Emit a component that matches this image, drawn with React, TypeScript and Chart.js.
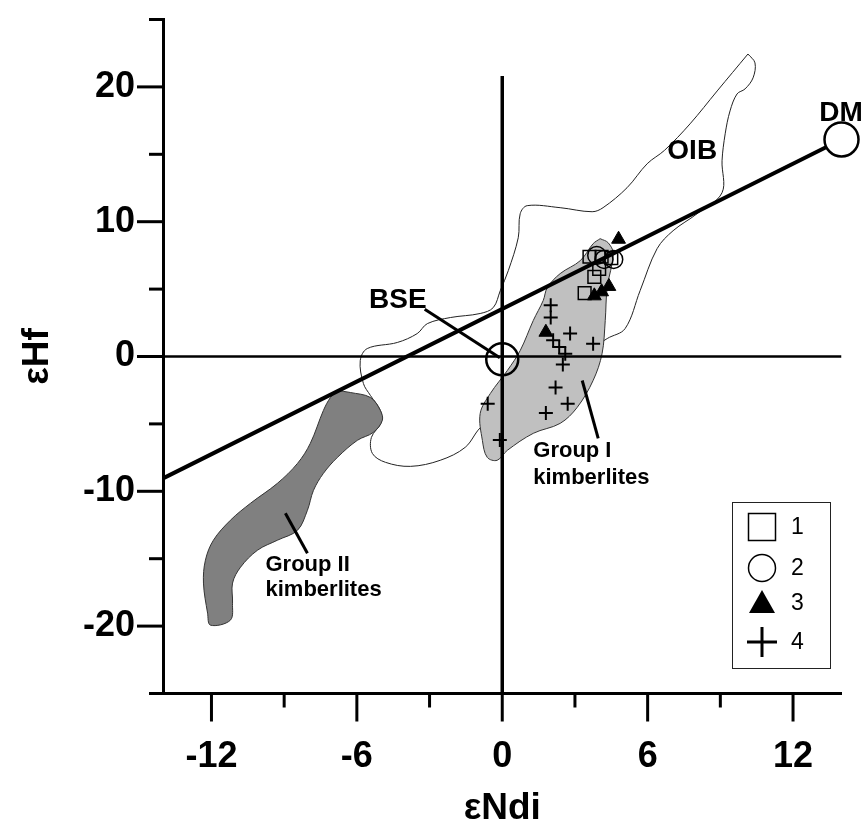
import React, { useEffect, useRef } from 'react';
import { Chart, registerables } from 'chart.js';

Chart.register(...registerables);

// ---- axis ticks ----
const xMajorTicks = [-12, -6, 0, 6, 12];
const xMinorTicks = [-9, -3, 3, 9];
const yMajorTicks = [-20, -10, 0, 10, 20];
const yMinorTicks = [-25, -15, -5, 5, 15, 25];

// ---- fields (εNdi, εHf) ----
const oibField = [
  { x: 10.14, y: 22.44 }, { x: 8.87, y: 19.7 }, { x: 7.75, y: 17.26 }, { x: 6.7, y: 15.3 },
  { x: 5.98, y: 14.3 }, { x: 5.15, y: 12.52 }, { x: 4.16, y: 11.04 }, { x: 3.71, y: 10.74 },
  { x: 2.39, y: 11.04 }, { x: 1.03, y: 11.19 }, { x: 0.74, y: 10.59 }, { x: 0.66, y: 8.81 },
  { x: 0.25, y: 6.37 }, { x: -0.08, y: 4.89 }, { x: -0.37, y: 3.63 }, { x: -0.91, y: 3.19 },
  { x: -2.14, y: 2.89 }, { x: -3.09, y: 2.44 }, { x: -3.51, y: 1.7 }, { x: -4.33, y: 1.04 },
  { x: -5.57, y: 0.59 }, { x: -5.86, y: -0.3 }, { x: -5.73, y: -2.0 }, { x: -5.44, y: -2.89 },
  { x: -5.03, y: -4.0 }, { x: -4.99, y: -4.89 }, { x: -5.4, y: -6.0 }, { x: -5.36, y: -7.19 },
  { x: -4.82, y: -7.85 }, { x: -3.79, y: -8.15 }, { x: -2.56, y: -7.7 }, { x: -1.53, y: -6.74 },
  { x: -0.78, y: -5.11 }, { x: 1.57, y: -3.26 }, { x: 3.63, y: 0.44 }, { x: 4.33, y: 1.33 },
  { x: 5.07, y: 2.07 }, { x: 5.69, y: 4.89 }, { x: 6.39, y: 8.0 }, { x: 7.05, y: 9.33 },
  { x: 8.04, y: 10.59 }, { x: 9.07, y: 12.15 }, { x: 9.07, y: 14.52 }, { x: 9.2, y: 16.52 },
  { x: 9.4, y: 18.22 }, { x: 9.69, y: 19.48 }, { x: 10.02, y: 19.85 }, { x: 10.35, y: 20.67 },
  { x: 10.43, y: 21.78 }, { x: 10.14, y: 22.44 },
];

const groupIField = [
  { x: 4.04, y: 8.74 }, { x: 4.37, y: 8.44 }, { x: 4.58, y: 7.63 }, { x: 4.33, y: 5.11 },
  { x: 4.25, y: 2.67 }, { x: 4.12, y: 0.22 }, { x: 3.75, y: -1.78 }, { x: 3.09, y: -3.78 },
  { x: 2.39, y: -4.96 }, { x: 1.28, y: -5.7 }, { x: 0.21, y: -6.96 }, { x: -0.21, y: -7.7 },
  { x: -0.62, y: -7.48 }, { x: -0.82, y: -6.22 }, { x: -0.91, y: -4.22 }, { x: -0.49, y: -2.74 },
  { x: 0.21, y: -1.04 }, { x: 0.74, y: 0.44 }, { x: 1.28, y: 2.67 }, { x: 1.69, y: 4.15 },
  { x: 1.86, y: 5.11 }, { x: 2.39, y: 6.15 }, { x: 3.22, y: 7.11 }, { x: 3.75, y: 8.37 },
  { x: 4.04, y: 8.74 },
];

const groupIIField = [
  { x: -6.8, y: -2.52 }, { x: -6.27, y: -2.67 }, { x: -5.44, y: -3.04 }, { x: -5.03, y: -4.0 },
  { x: -4.95, y: -4.74 }, { x: -5.32, y: -5.63 }, { x: -5.98, y: -6.22 }, { x: -6.8, y: -7.48 },
  { x: -7.38, y: -8.67 }, { x: -7.79, y: -9.93 }, { x: -8.04, y: -11.41 }, { x: -8.45, y: -12.89 },
  { x: -9.28, y: -13.63 }, { x: -10.1, y: -14.37 }, { x: -10.8, y: -15.63 }, { x: -11.13, y: -16.81 },
  { x: -11.13, y: -18.3 }, { x: -11.22, y: -19.56 }, { x: -12.04, y: -19.93 }, { x: -12.16, y: -19.04 },
  { x: -12.33, y: -16.81 }, { x: -12.25, y: -15.11 }, { x: -11.92, y: -13.63 }, { x: -11.22, y: -12.15 },
  { x: -10.39, y: -10.89 }, { x: -9.28, y: -9.41 }, { x: -8.45, y: -7.93 }, { x: -7.92, y: -6.44 },
  { x: -7.38, y: -4.0 }, { x: -7.09, y: -3.04 }, { x: -6.8, y: -2.52 },
];

// ---- reference lines ----
const mixingLine = [{ x: -14, y: -9.04 }, { x: 14, y: 16.1 }];
const zeroVertical = [{ x: 0, y: -25 }, { x: 0, y: 20.8 }];
const zeroHorizontal = [{ x: -14, y: 0 }, { x: 14, y: 0 }];
const bseLeader = [{ x: -3.2, y: 3.5 }, { x: -0.1, y: -0.1 }];
const groupILeader = [{ x: 3.3, y: -1.78 }, { x: 3.96, y: -6.07 }];
const groupIILeader = [{ x: -8.95, y: -11.63 }, { x: -8.04, y: -14.59 }];

// ---- reservoirs ----
const bsePoint = [{ x: 0, y: -0.2 }];
const dmPoint = [{ x: 14, y: 16.1 }];

// ---- samples ----
const series1 = [
  { x: 3.6, y: 7.4 }, { x: 4.1, y: 7.4 }, { x: 4.5, y: 7.3 },
  { x: 4.0, y: 6.5 }, { x: 3.8, y: 5.9 }, { x: 3.4, y: 4.7 },
];
const series2 = [{ x: 3.9, y: 7.5 }, { x: 4.2, y: 7.2 }, { x: 4.6, y: 7.2 }];
const series3 = [
  { x: 4.8, y: 8.7 }, { x: 4.4, y: 5.2 }, { x: 4.1, y: 4.8 }, { x: 3.8, y: 4.5 }, { x: 1.8, y: 1.8 },
];
const series4 = [
  { x: 2.0, y: 3.8 }, { x: 2.0, y: 2.9 }, { x: 2.8, y: 1.7 }, { x: 2.1, y: 1.2 },
  { x: 2.35, y: 0.7 }, { x: 2.6, y: 0.2 }, { x: 2.5, y: -0.6 }, { x: 3.75, y: 0.95 },
  { x: 2.2, y: -2.3 }, { x: 2.7, y: -3.5 }, { x: 1.8, y: -4.2 }, { x: -0.6, y: -3.5 },
  { x: -0.1, y: -6.2 },
];
const legendLabels = ['1', '2', '3', '4'];

// ---- annotation texts (anchor in data units) ----
const bigLabels = [
  { text: 'BSE', x: -4.31, y: 4.15 },
  { text: 'DM', x: 13.98, y: 18.04 },
  { text: 'OIB', x: 7.84, y: 15.19 },
];
const fieldLabels = [
  { text: 'Group I', x: 1.28, y: -7.04 },
  { text: 'kimberlites', x: 1.28, y: -9.0 },
  { text: 'Group II', x: -9.77, y: -15.48 },
  { text: 'kimberlites', x: -9.77, y: -17.33 },
];

const FONT = "'Liberation Sans', Arial, Helvetica, sans-serif";

const ticksPlugin = {
  id: 'customTicks',
  afterDraw(chart: any) {
    const { ctx, chartArea, scales } = chart;
    const xs = scales.x;
    const ys = scales.y;
    ctx.save();
    ctx.strokeStyle = '#000';
    ctx.lineWidth = 3;
    const xt = (vals: number[], len: number) =>
      vals.forEach((v) => {
        const px = xs.getPixelForValue(v);
        ctx.beginPath();
        ctx.moveTo(px, chartArea.bottom);
        ctx.lineTo(px, chartArea.bottom + len);
        ctx.stroke();
      });
    const yt = (vals: number[], len: number) =>
      vals.forEach((v) => {
        const py = ys.getPixelForValue(v);
        ctx.beginPath();
        ctx.moveTo(chartArea.left, py);
        ctx.lineTo(chartArea.left - len, py);
        ctx.stroke();
      });
    xt(xMajorTicks, 28);
    xt(xMinorTicks, 14);
    yt(yMajorTicks, 26);
    yt(yMinorTicks, 14);
    ctx.restore();
  },
};

const textPlugin = {
  id: 'annotTexts',
  afterDatasetsDraw(chart: any) {
    const { ctx, scales } = chart;
    const xs = scales.x;
    const ys = scales.y;
    ctx.save();
    ctx.fillStyle = '#000';
    ctx.textBaseline = 'middle';
    ctx.textAlign = 'center';
    ctx.font = `bold 28px ${FONT}`;
    bigLabels.forEach((l) => {
      ctx.fillText(l.text, xs.getPixelForValue(l.x), ys.getPixelForValue(l.y));
    });
    ctx.textAlign = 'left';
    ctx.font = `bold 22px ${FONT}`;
    fieldLabels.forEach((l) => {
      ctx.fillText(l.text, xs.getPixelForValue(l.x), ys.getPixelForValue(l.y));
    });
    ctx.restore();
  },
};

const legendPlugin = {
  id: 'boxLegend',
  afterDraw(chart: any) {
    const { ctx } = chart;
    const left = 732;
    const top = 502;
    const w = 98;
    const h = 166;
    ctx.save();
    ctx.fillStyle = '#fff';
    ctx.fillRect(left, top, w, h);
    ctx.strokeStyle = '#222';
    ctx.lineWidth = 1;
    ctx.strokeRect(left + 0.5, top + 0.5, w, h);
    const cx = 762;
    const rows = [527, 568, 603, 642];
    ctx.strokeStyle = '#000';
    ctx.fillStyle = '#000';
    ctx.lineWidth = 1.5;
    ctx.strokeRect(cx - 13.5, rows[0] - 13.5, 27, 27);
    ctx.beginPath();
    ctx.arc(cx, rows[1], 13.5, 0, Math.PI * 2);
    ctx.stroke();
    ctx.beginPath();
    ctx.moveTo(cx, rows[2] - 13);
    ctx.lineTo(cx + 13, rows[2] + 10);
    ctx.lineTo(cx - 13, rows[2] + 10);
    ctx.closePath();
    ctx.fill();
    ctx.lineWidth = 3;
    ctx.beginPath();
    ctx.moveTo(cx - 15, rows[3]);
    ctx.lineTo(cx + 15, rows[3]);
    ctx.moveTo(cx, rows[3] - 15);
    ctx.lineTo(cx, rows[3] + 15);
    ctx.stroke();
    ctx.font = `23px ${FONT}`;
    ctx.textAlign = 'left';
    ctx.textBaseline = 'middle';
    legendLabels.forEach((t, i) => ctx.fillText(t, 791, rows[i] + 1));
    ctx.restore();
  },
};

const lineDs = (data: any[], width: number, order: number, extra: any = {}) => ({
  data,
  showLine: true,
  borderColor: '#000',
  borderWidth: width,
  pointRadius: 0,
  pointHoverRadius: 0,
  pointHitRadius: 0,
  tension: 0,
  fill: false,
  order,
  ...extra,
});

export default function App() {
  const canvasRef = useRef<HTMLCanvasElement | null>(null);

  useEffect(() => {
    const canvas = canvasRef.current;
    if (!canvas) return;
    const chart = new Chart(canvas, {
      type: 'scatter',
      data: {
        datasets: [
          lineDs(oibField, 1, 20, { borderColor: '#222', tension: 0.35 }),
          lineDs(groupIIField, 1, 19, {
            borderColor: '#333',
            backgroundColor: '#808080',
            fill: 'shape',
            tension: 0.35,
          }),
          lineDs(groupIField, 1, 18, {
            borderColor: '#333',
            backgroundColor: '#c0c0c0',
            fill: 'shape',
            tension: 0.35,
          }),
          lineDs(zeroHorizontal, 2.5, 17),
          lineDs(zeroVertical, 3.5, 16),
          lineDs(mixingLine, 4, 15, { clip: false }),
          lineDs(bseLeader, 3, 14),
          lineDs(groupILeader, 3, 14),
          lineDs(groupIILeader, 3, 14),
          {
            data: bsePoint,
            pointStyle: 'circle',
            pointRadius: 16,
            borderColor: '#000',
            borderWidth: 2.5,
            backgroundColor: 'rgba(0,0,0,0)',
            order: 10,
          },
          {
            data: dmPoint,
            pointStyle: 'circle',
            pointRadius: 17,
            borderColor: '#000',
            borderWidth: 2.5,
            backgroundColor: '#fff',
            clip: false,
            order: 10,
          },
          {
            label: '1',
            data: series1,
            pointStyle: 'rect',
            pointRadius: 9,
            borderColor: '#000',
            borderWidth: 1.5,
            backgroundColor: 'rgba(0,0,0,0)',
            order: 4,
          },
          {
            label: '2',
            data: series2,
            pointStyle: 'circle',
            pointRadius: 9,
            borderColor: '#000',
            borderWidth: 1.5,
            backgroundColor: 'rgba(0,0,0,0)',
            order: 3,
          },
          {
            label: '3',
            data: series3,
            pointStyle: 'triangle',
            pointRadius: 8,
            borderColor: '#000',
            borderWidth: 1,
            backgroundColor: '#000',
            order: 2,
          },
          {
            label: '4',
            data: series4,
            pointStyle: 'cross',
            pointRadius: 7,
            borderColor: '#000',
            borderWidth: 2,
            backgroundColor: '#000',
            order: 1,
          },
        ] as any,
      },
      options: {
        responsive: false,
        animation: false,
        events: [],
        layout: { padding: { top: 18.5, right: 24.5, left: 0, bottom: 0 } },
        plugins: {
          legend: { display: false },
          tooltip: { enabled: false },
        },
        scales: {
          x: {
            type: 'linear',
            min: -14,
            max: 14,
            afterFit: (s: any) => {
              s.height = 138.5;
              s.paddingLeft = 0;
              s.paddingRight = 0;
              s.paddingTop = 0;
              s.paddingBottom = 0;
            },
            afterBuildTicks: (s: any) => {
              s.ticks = xMajorTicks.map((v) => ({ value: v }));
            },
            grid: { display: true, drawOnChartArea: false, drawTicks: false },
            border: { display: true, color: '#000', width: 3 },
            ticks: {
              color: '#000',
              padding: 42,
              maxRotation: 0,
              autoSkip: false,
              font: { family: FONT, size: 36, weight: 'bold' },
              callback: (v: any) => String(v),
            },
            title: {
              display: true,
              text: 'εNdi',
              color: '#000',
              font: { family: FONT, size: 37, weight: 'bold' },
              padding: { top: 0, bottom: 1 },
            },
          },
          y: {
            type: 'linear',
            min: -25,
            max: 25,
            afterFit: (s: any) => {
              s.width = 163;
              s.paddingLeft = 0;
              s.paddingRight = 0;
              s.paddingTop = 0;
              s.paddingBottom = 0;
            },
            afterBuildTicks: (s: any) => {
              s.ticks = yMajorTicks.map((v) => ({ value: v }));
            },
            grid: { display: true, drawOnChartArea: false, drawTicks: false },
            border: { display: true, color: '#000', width: 3 },
            ticks: {
              color: '#000',
              padding: 28,
              autoSkip: false,
              font: { family: FONT, size: 36, weight: 'bold' },
              callback: (v: any) => String(v),
            },
            title: {
              display: true,
              text: 'εHf',
              color: '#000',
              font: { family: FONT, size: 37, weight: 'bold' },
              padding: { top: 16, bottom: 0 },
            },
          },
        },
      } as any,
      plugins: [ticksPlugin, textPlugin, legendPlugin],
    });
    return () => chart.destroy();
  }, []);

  return (
    <div style={{ position: 'absolute', left: 0, top: 0, width: 866, height: 832 }}>
      <canvas ref={canvasRef} width={866} height={832} style={{ display: 'block' }} />
    </div>
  );
}
